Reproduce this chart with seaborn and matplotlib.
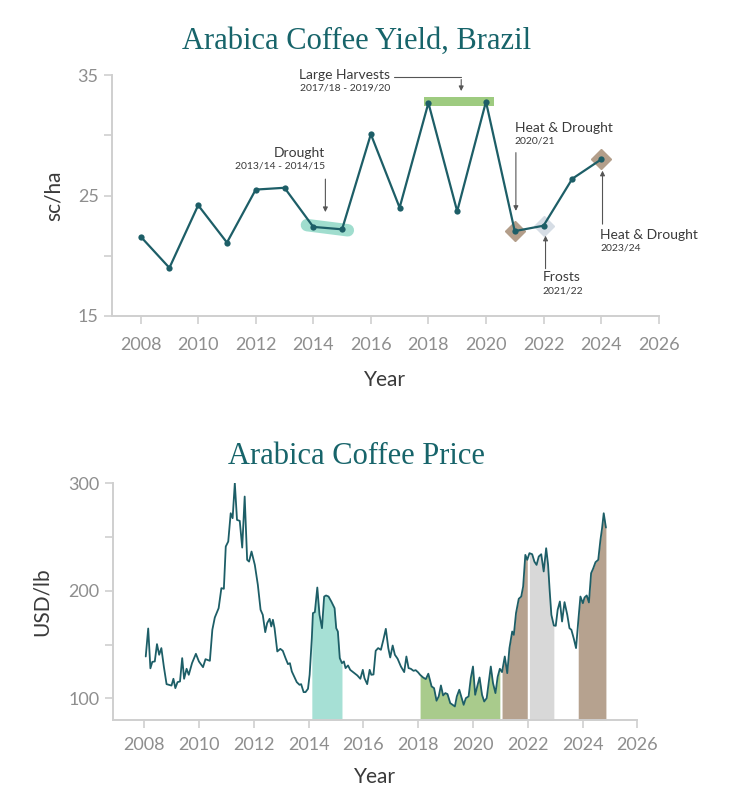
import numpy as np
import pandas as pd
import matplotlib
matplotlib.use("Agg")
import matplotlib.pyplot as plt
import seaborn as sns

# ---- yield data (sc/ha)
yield_years = list(range(2008, 2025))
yield_vals = [21.6, 19.0, 24.2, 21.1, 25.5, 25.65, 22.4, 22.2, 30.1, 24.0,
              32.7, 23.7, 32.8, 22.05, 22.5, 26.4, 28.0]

# ---- price data (USD/lb)
price_t = [2008.06, 2008.15, 2008.23, 2008.30, 2008.39, 2008.47, 2008.55, 2008.63, 2008.72, 2008.82,
           2008.91, 2009.00, 2009.07, 2009.14, 2009.22, 2009.31, 2009.39, 2009.46, 2009.55, 2009.63,
           2009.75, 2009.89, 2010.00, 2010.15, 2010.24, 2010.40, 2010.49, 2010.58, 2010.72, 2010.82,
           2010.91, 2010.98, 2011.07, 2011.16, 2011.23, 2011.31, 2011.39, 2011.49, 2011.58, 2011.67,
           2011.76, 2011.83, 2011.92, 2012.04, 2012.15, 2012.25, 2012.33, 2012.42, 2012.49, 2012.58,
           2012.64, 2012.70, 2012.76, 2012.86, 2012.97, 2013.06, 2013.16, 2013.25, 2013.32, 2013.39,
           2013.49, 2013.57, 2013.67, 2013.73, 2013.82, 2013.89, 2013.98, 2014.04, 2014.12, 2014.16,
           2014.23, 2014.32, 2014.40, 2014.49, 2014.57, 2014.64, 2014.73, 2014.83, 2014.90, 2014.95,
           2015.01, 2015.07, 2015.14, 2015.22, 2015.29, 2015.35, 2015.44, 2015.52, 2015.64, 2015.78,
           2015.89, 2015.98, 2016.04, 2016.14, 2016.23, 2016.29, 2016.37, 2016.45, 2016.54, 2016.64,
           2016.73, 2016.82, 2016.91, 2016.98, 2017.07, 2017.15, 2017.25, 2017.37, 2017.49, 2017.57,
           2017.65, 2017.73, 2017.83, 2017.91, 2018.00, 2018.07, 2018.18, 2018.28, 2018.37, 2018.49,
           2018.58, 2018.67, 2018.75, 2018.83, 2018.91, 2018.99, 2019.07, 2019.17, 2019.26, 2019.34,
           2019.41, 2019.50, 2019.58, 2019.66, 2019.74, 2019.84, 2019.92, 2020.00, 2020.08, 2020.17,
           2020.24, 2020.33, 2020.41, 2020.50, 2020.58, 2020.65, 2020.73, 2020.82, 2020.90, 2020.98,
           2021.06, 2021.16, 2021.25, 2021.33, 2021.43, 2021.49, 2021.57, 2021.67, 2021.76, 2021.83,
           2021.91, 2021.98, 2022.06, 2022.16, 2022.24, 2022.32, 2022.40, 2022.49, 2022.58, 2022.67,
           2022.74, 2022.80, 2022.86, 2022.95, 2023.02, 2023.09, 2023.17, 2023.25, 2023.34, 2023.44,
           2023.52, 2023.59, 2023.68, 2023.76, 2023.84, 2023.92, 2024.01, 2024.07, 2024.15, 2024.23,
           2024.31, 2024.38, 2024.47, 2024.57, 2024.65, 2024.71, 2024.77, 2024.85]
price_vals = [139, 165, 128, 134, 134.4, 150.5, 140.6, 146.8, 129.7, 113.3,
              112.7, 112, 118.3, 109.6, 115.2, 115.8, 137.5, 118.3, 127.6, 122,
              132.9, 141.5, 134.4, 129.1, 136.5, 135, 163.8, 175.2, 183.9, 202.5,
              201.9, 241.2, 245.8, 272.1, 267.5, 300, 265.9, 265, 240.2, 287.6,
              228.8, 227.2, 236.5, 224.1, 205.6, 182.4, 177.7, 161.6, 170, 174,
              166.9, 173.1, 165.3, 143.7, 146.1, 144.3, 137.5, 131.9, 132.8, 125.1,
              119.5, 115.2, 112.7, 113.3, 105.9, 105.9, 109, 122, 156, 179.3,
              180.2, 203.1, 177.7, 165.3, 194.7, 195.7, 194.7, 190.1, 186.4, 183.9,
              165.3, 162.2, 137.5, 132.8, 134.4, 128.2, 130.7, 126.6, 124.2, 121.4,
              118.3, 126.6, 118.9, 113.3, 126.6, 122, 122.3, 144.3, 146.8, 145.2,
              154.5, 164.7, 146.8, 138.1, 149.2, 140.6, 136.9, 129.7, 124.5, 139,
              128.2, 127.6, 125.7, 126.3, 124.2, 122, 119.5, 118, 123, 111.2,
              109.6, 97.9, 101.9, 112.1, 102.8, 105, 104.1, 95.7, 94.1, 92.6,
              101.9, 108.1, 101, 94.1, 100.3, 101.9, 118.9, 129.7, 103.4, 112.7,
              119.5, 103.4, 97.2, 100.3, 115.8, 129.7, 114.3, 105, 120, 127.6,
              124.5, 139, 123.5, 146.8, 162.2, 159.1, 179.3, 192.6, 194.7, 204,
              233.4, 228.8, 235, 234, 227.2, 224.1, 231.9, 234, 218, 239.6,
              224.1, 199.4, 177.7, 167.8, 167.5, 182.4, 190.1, 171.5, 189.5, 177.7,
              165.3, 163.8, 155.4, 146.8, 171.5, 194.7, 188.5, 193.8, 195.7, 189.2,
              216.4, 220.4, 226.6, 228.8, 247.3, 258.2, 272.1, 258.8]

# shaded event periods under the price line
fill_starts = [2014.06, 2018.05, 2021.05, 2022.05, 2023.83]
fill_ends = [2015.23, 2021.00, 2021.99, 2023.00, 2024.90]
fill_colors = ["#a6e0d5", "#a9cb8c", "#b6a28f", "#d8d8d8", "#b6a28f"]

LINE = "#1d5e67"
TITLE = "#17646a"
GRID_GREY = "#cfcfcf"
TICK_GREY = "#8e8e8e"
TEXT_DARK = "#3a3a3a"

sns.set_style("white")
plt.rcParams["font.family"] = ["Lato", "DejaVu Sans"]

fig = plt.figure(figsize=(7.31, 8), dpi=100)
ax1 = fig.add_axes([0.153, 0.605, 0.748, 0.301])
ax2 = fig.add_axes([0.154, 0.100, 0.718, 0.296])

ydf = pd.DataFrame({"year": yield_years, "yield": yield_vals})
pdf = pd.DataFrame({"t": price_t, "price": price_vals})


def style_axes(ax, xpad, labelpad):
    for s in ["top", "right"]:
        ax.spines[s].set_visible(False)
    for s in ["left", "bottom"]:
        ax.spines[s].set_color(GRID_GREY)
        ax.spines[s].set_linewidth(1.4)
    ax.tick_params(axis="both", which="both", color=GRID_GREY, width=1.2, length=6,
                   labelcolor=TICK_GREY, labelsize=13, direction="out", left=True, bottom=True)
    ax.tick_params(axis="x", pad=xpad)
    ax.set_xticks(range(2008, 2027, 2))
    ax.set_xlabel("Year", fontsize=15, color=TEXT_DARK, labelpad=labelpad)


# ---------------- top chart: yield
ax1.set_xlim(2007.0, 2026)
ax1.set_ylim(15, 35)

# highlight shapes behind the line
ax1.plot([2013.78, 2015.2], [22.55, 22.12], color="#8fd8c6", lw=9, alpha=0.85,
         solid_capstyle="round", zorder=1)
ax1.fill_between([2017.85, 2020.28], 32.45, 33.2, color="#9ecb80", zorder=1, lw=0)
ax1.plot([2021], [yield_vals[13]], marker="D", ms=10, color="#b39e8a", zorder=1, ls="none")
ax1.plot([2022], [yield_vals[14]], marker="D", ms=10, color="#d6dde5", zorder=1, ls="none")
ax1.plot([2024], [yield_vals[16]], marker="D", ms=10, color="#b39e8a", zorder=1, ls="none")

sns.lineplot(data=ydf, x="year", y="yield", ax=ax1, color=LINE, lw=1.6,
             marker="o", markersize=4.5, markeredgewidth=0, zorder=3)

ax1.set_yticks([15, 20, 25, 30, 35])
ax1.set_yticklabels(["15", "", "25", "", "35"])
style_axes(ax1, 9, 12)
ax1.set_ylabel("sc/ha", fontsize=15, color=TEXT_DARK, labelpad=10)

arrow_kw = dict(arrowstyle="-|>", color="#555555", lw=0.8, mutation_scale=7)
small = dict(fontsize=7.5, color=TEXT_DARK)
big = dict(fontsize=10, color=TEXT_DARK)

# Large Harvests
ax1.text(2016.66, 35.0, "Large Harvests", ha="right", va="center", **big)
ax1.text(2016.66, 33.9, "2017/18 - 2019/20", ha="right", va="center", **small)
ax1.plot([2016.8, 2019.14], [34.86, 34.86], color="#555555", lw=0.8, clip_on=False)
ax1.annotate("", xy=(2019.14, 33.45), xytext=(2019.14, 34.87), arrowprops=arrow_kw,
             annotation_clip=False)

# Drought
ax1.text(2014.42, 28.5, "Drought", ha="right", va="center", **big)
ax1.text(2014.42, 27.48, "2013/14 - 2014/15", ha="right", va="center", **small)
ax1.annotate("", xy=(2014.42, 23.4), xytext=(2014.42, 26.6), arrowprops=arrow_kw)

# Heat & Drought 2020/21
ax1.text(2021.0, 30.63, "Heat & Drought", ha="left", va="center", **big)
ax1.text(2021.0, 29.52, "2020/21", ha="left", va="center", **small)
ax1.annotate("", xy=(2021.04, 23.5), xytext=(2021.04, 28.8), arrowprops=arrow_kw)

# Frosts
ax1.text(2021.98, 18.2, "Frosts", ha="left", va="center", **big)
ax1.text(2021.98, 17.07, "2021/22", ha="left", va="center", **small)
ax1.annotate("", xy=(2022.07, 21.9), xytext=(2022.07, 18.7), arrowprops=arrow_kw)

# Heat & Drought 2023/24
ax1.text(2023.98, 21.72, "Heat & Drought", ha="left", va="center", **big)
ax1.text(2023.98, 20.62, "2023/24", ha="left", va="center", **small)
ax1.annotate("", xy=(2024.05, 27.3), xytext=(2024.05, 22.4), arrowprops=arrow_kw)

# ---------------- bottom chart: price
ax2.set_xlim(2006.85, 2026)
ax2.set_ylim(80, 300)

t_arr = np.array(price_t)
p_arr = np.array(price_vals)
for a, b, c in zip(fill_starts, fill_ends, fill_colors):
    m = (t_arr >= a) & (t_arr <= b)
    ax2.fill_between(t_arr[m], 80, p_arr[m], color=c, lw=0, zorder=1)

sns.lineplot(data=pdf, x="t", y="price", ax=ax2, color=LINE, lw=1.3, zorder=3)

ax2.set_yticks([100, 150, 200, 250, 300])
ax2.set_yticklabels(["100", "", "200", "", "300"])
style_axes(ax2, 6, 10)
ax2.set_ylabel("USD/lb", fontsize=15, color=TEXT_DARK, labelpad=12)

# titles
fig.text(0.488, 0.948, "Arabica Coffee Yield, Brazil", ha="center", va="center",
         fontsize=22, color=TITLE, family=["Liberation Serif", "DejaVu Serif"])
fig.text(0.488, 0.429, "Arabica Coffee Price", ha="center", va="center",
         fontsize=22, color=TITLE, family=["Liberation Serif", "DejaVu Serif"])

fig.savefig("out.png", dpi=100, facecolor="white")
